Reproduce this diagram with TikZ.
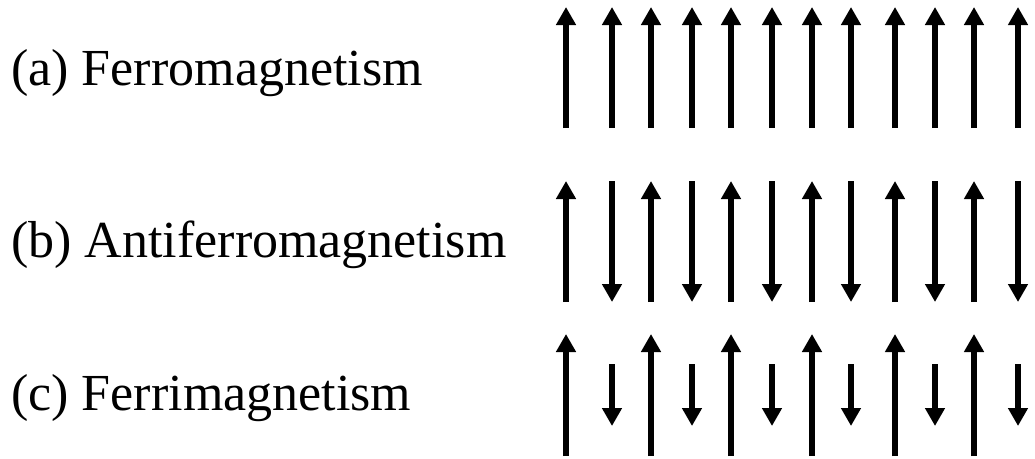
\documentclass[tikz,border=0pt]{standalone}
\usepackage{fontspec}
\setmainfont{Liberation Serif}
\usetikzlibrary{arrows.meta}
\begin{document}
\begin{tikzpicture}[x=1pt,y=-1pt,
  spin/.style={line width=6pt,-{Triangle[width=19pt,length=18pt]}},
  lbl/.style={anchor=base west,inner sep=0pt,font=\fontsize{52}{60}\selectfont}]
\useasboundingbox (0,0) rectangle (1035,458);
\node[lbl] (ta) at (11,85) {(a) Ferromagnetism};
\node[lbl] (tb) at (11,257) {(b) Antiferromagnetism};
\node[lbl] (tc) at (11,410) {(c) Ferrimagnetism};
\foreach \x [count=\i] in {566,612,651,692,731,772,812,851,895,935,974,1018}{
  % (a) all up
  \coordinate (a\i s) at (\x,128);
  \coordinate (a\i e) at (\x,7);
  \draw[spin] (a\i s) -- (a\i e);
  \ifodd\i
    \coordinate (b\i s) at (\x,302);
    \coordinate (b\i e) at (\x,181);
    \coordinate (c\i s) at (\x,456);
    \coordinate (c\i e) at (\x,334);
  \else
    \coordinate (b\i s) at (\x,181);
    \coordinate (b\i e) at (\x,302);
    \coordinate (c\i s) at (\x,364);
    \coordinate (c\i e) at (\x,426);
  \fi
  \draw[spin] (b\i s) -- (b\i e);
  \draw[spin] (c\i s) -- (c\i e);
}
\end{tikzpicture}
\end{document}
